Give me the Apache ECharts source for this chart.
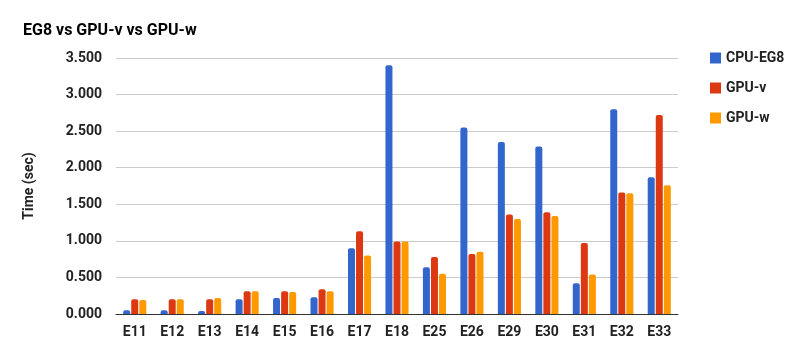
<!DOCTYPE html>
<html>
<head>
<meta charset="utf-8">
<script src="https://cdn.jsdelivr.net/npm/echarts@6/dist/echarts.min.js"></script>
<style>
  html, body { margin: 0; padding: 0; background: #fff; }
  #chart { width: 809px; height: 359px; }
</style>
</head>
<body>
<div id="chart"></div>
<script>
const categories = ['E11', 'E12', 'E13', 'E14', 'E15', 'E16', 'E17', 'E18', 'E25', 'E26', 'E29', 'E30', 'E31', 'E32', 'E33']
const cpuEG8 = [0.05, 0.05, 0.04, 0.20, 0.22, 0.23, 0.90, 3.40, 0.64, 2.55, 2.35, 2.29, 0.42, 2.80, 1.87]
const gpuV = [0.20, 0.20, 0.20, 0.31, 0.31, 0.34, 1.13, 0.99, 0.78, 0.82, 1.36, 1.39, 0.97, 1.66, 2.72]
const gpuW = [0.19, 0.20, 0.22, 0.31, 0.30, 0.31, 0.80, 0.99, 0.55, 0.85, 1.30, 1.34, 0.54, 1.65, 1.76]

const FONT = 'Roboto'
const chart = echarts.init(document.getElementById('chart'))

function bar(name, data, color) {
  return {
    name,
    type: 'bar',
    data,
    barWidth: 7,
    barGap: '15%',
    itemStyle: { color, borderRadius: [2, 2, 0, 0] },
  }
}

chart.setOption({
  animation: false,
  textStyle: { fontFamily: FONT },
  title: {
    text: 'EG8 vs GPU-v vs GPU-w',
    left: 18,
    top: 18,
    textStyle: { fontFamily: FONT, fontSize: 16, fontWeight: 'bold', color: '#000' },
  },
  legend: {
    orient: 'vertical',
    left: 705,
    top: 46,
    itemWidth: 11,
    itemHeight: 11,
    itemGap: 16,
    icon: 'rect',
    textStyle: { fontFamily: FONT, fontSize: 14, fontWeight: 'bold', color: '#222' },
  },
  grid: { left: 116, right: 131, top: 58, bottom: 45 },
  xAxis: {
    type: 'category',
    data: categories,
    axisTick: { show: false },
    axisLine: { lineStyle: { color: '#333', width: 1 } },
    axisLabel: { fontFamily: FONT, fontSize: 14, fontWeight: 'bold', color: '#222', margin: 11 },
  },
  yAxis: {
    type: 'value',
    min: 0,
    max: 3.5,
    interval: 0.5,
    name: 'Time (sec)',
    nameLocation: 'middle',
    nameGap: 80,
    nameTextStyle: { fontFamily: FONT, fontSize: 14, fontWeight: 'bold', color: '#222' },
    axisLine: { show: false },
    axisTick: { show: false },
    splitLine: { lineStyle: { color: '#cccccc' } },
    axisLabel: {
      fontFamily: FONT, fontSize: 14, fontWeight: 'bold', color: '#222', margin: 14,
      formatter: (v) => v.toFixed(3),
    },
  },
  series: [
    bar('CPU-EG8', cpuEG8, '#3366cc'),
    bar('GPU-v', gpuV, '#dc3912'),
    bar('GPU-w', gpuW, '#ff9900'),
  ],
})
</script>
</body>
</html>
